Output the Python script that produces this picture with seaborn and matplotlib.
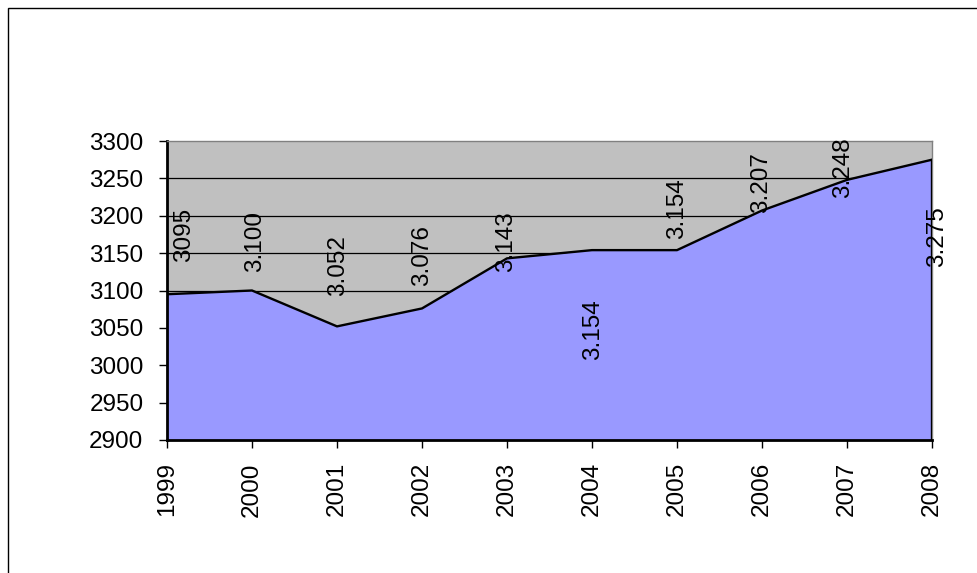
import matplotlib
matplotlib.use('Agg')
import matplotlib.pyplot as plt
from matplotlib.patches import Rectangle
import seaborn as sns
import pandas as pd

years = [1999, 2000, 2001, 2002, 2003, 2004, 2005, 2006, 2007, 2008]
values = [3095, 3100, 3052, 3076, 3143, 3154, 3154, 3207, 3248, 3275]
point_labels = ['3095', '3.100', '3.052', '3.076', '3.143',
                '3.154', '3.154', '3.207', '3.248', '3.275']
# where excel dropped the data labels (label centre, in data units)
label_y = [3174, 3165, 3133, 3147, 3165, 3047, 3209, 3244, 3264, 3172]
label_dx = [12, 2, 1, 0, -1, 1, 0, -1, -3, 4]  # points

df = pd.DataFrame({'year': years, 'value': values})

sns.set_style('white')
plt.rcParams['font.family'] = ['Liberation Sans', 'DejaVu Sans']

fig = plt.figure(figsize=(9.78, 5.73), dpi=100)
ax = fig.add_axes([167/978, 1-440/573, (932-167)/978, (440-141)/573])

ax.set_facecolor('#C0C0C0')
ax.fill_between(df['year'], df['value'], 2900, color='#9999FF', lw=0, zorder=2)
sns.lineplot(data=df, x='year', y='value', ax=ax, color='black', lw=1.7, zorder=3)
ax.plot([years[-1], years[-1]], [2900, values[-1]], color='black', lw=1.7, zorder=3)

ax.set_xlim(years[0], years[-1])
ax.set_ylim(2900, 3300)
ax.set_yticks(range(2900, 3301, 50))
ax.set_xticks(years)
ax.set_xticklabels([str(y) for y in years], rotation=90)
for y in range(2950, 3300, 50):
    ax.axhline(y, color='black', lw=0.9, zorder=1)

ax.set_xlabel('')
ax.set_ylabel('')
ax.tick_params(axis='both', which='major', bottom=True, left=True,
               direction='out', length=6, width=1, color='black',
               labelsize=17.5, labelcolor='black')
ax.tick_params(axis='y', pad=11)
ax.tick_params(axis='x', pad=10)
for side in ['left', 'bottom']:
    ax.spines[side].set_color('black')
    ax.spines[side].set_linewidth(2)
for side in ['top', 'right']:
    ax.spines[side].set_color('#808080')
    ax.spines[side].set_linewidth(1)

for x, ly, txt, dx in zip(years, label_y, point_labels, label_dx):
    ax.annotate(txt, (x, ly), xytext=(dx, 0), textcoords='offset points',
                rotation=90, ha='center', va='center', fontsize=17.5,
                color='black', zorder=4, annotation_clip=False)

fig.patches.append(Rectangle((8/978, -0.1), 1.2, (573-8)/573 + 0.1,
                             transform=fig.transFigure, fill=False,
                             edgecolor='black', lw=1))

fig.savefig('out.png', dpi=100)
